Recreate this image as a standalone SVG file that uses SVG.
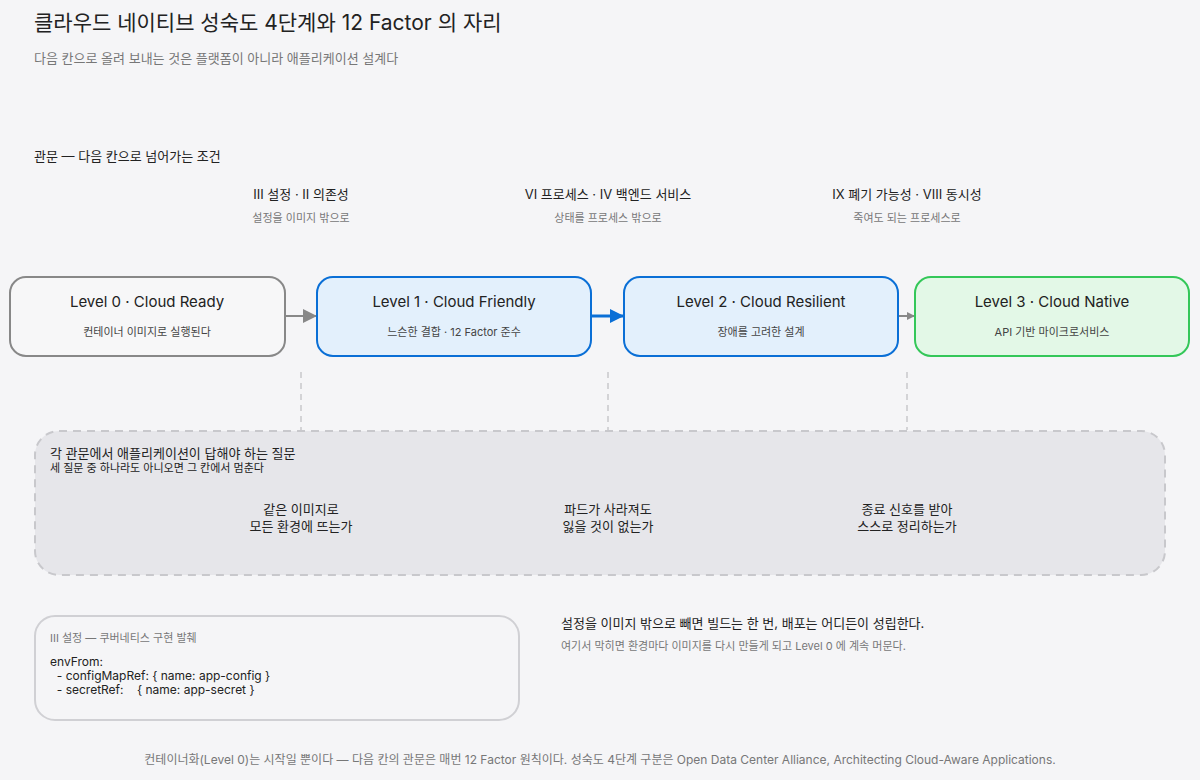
<svg xmlns="http://www.w3.org/2000/svg" width="1200" height="780" viewBox="0 0 1200 780">
<defs>
<style>
text{font-family:Inter,"Noto Sans CJK KR","Noto Sans",sans-serif;fill:#222}
.t{font-size:15px}.s{font-size:11px;fill:#444}.g{fill:#777}.c{text-anchor:middle}
</style>
<marker id="ag" markerWidth="8" markerHeight="8" refX="7" refY="4" orient="auto" markerUnits="userSpaceOnUse"><path d="M0,0L8,4L0,8z" fill="#888"/></marker>
<marker id="ab" markerWidth="14" markerHeight="14" refX="13" refY="7" orient="auto" markerUnits="userSpaceOnUse"><path d="M0,0L14,7L0,14z" fill="#0a6fd6"/></marker>
<marker id="ag2" markerWidth="14" markerHeight="14" refX="13" refY="7" orient="auto" markerUnits="userSpaceOnUse"><path d="M0,0L14,7L0,14z" fill="#888"/></marker>
</defs>
<rect width="1200" height="780" fill="#f5f5f7"/>
<text x="34" y="30" font-size="21">클라우드 네이티브 성숙도 4단계와 12 Factor 의 자리</text>
<text x="34" y="63" font-size="13" class="g">다음 칸으로 올려 보내는 것은 플랫폼이 아니라 애플리케이션 설계다</text>
<text x="34" y="161" font-size="13">관문 — 다음 칸으로 넘어가는 조건</text>
<text x="301" y="199" font-size="13" class="c">III 설정 · II 의존성</text>
<text x="301" y="222" class="s c g">설정을 이미지 밖으로</text>
<text x="608" y="199" font-size="13" class="c">VI 프로세스 · IV 백엔드 서비스</text>
<text x="608" y="222" class="s c g">상태를 프로세스 밖으로</text>
<text x="907" y="199" font-size="13" class="c">IX 폐기 가능성 · VIII 동시성</text>
<text x="907" y="222" class="s c g">죽여도 되는 프로세스로</text>
<g id="connectors" fill="none">
<line x1="286" y1="316" x2="316" y2="316" stroke="#888" stroke-width="2" marker-end="url(#ag2)"/>
<line x1="592" y1="316" x2="623" y2="316" stroke="#0a6fd6" stroke-width="3" marker-end="url(#ab)"/>
<line x1="899" y1="316" x2="914" y2="316" stroke="#888" stroke-width="2" marker-end="url(#ag)"/>
<g stroke="#c8c8cc" stroke-width="1.5" stroke-dasharray="6 5">
<line x1="301" y1="372" x2="301" y2="430"/><line x1="608" y1="372" x2="608" y2="430"/><line x1="907" y1="372" x2="907" y2="430"/>
</g>
</g>
<g id="n0"><rect x="10" y="277" width="275" height="79" rx="16" fill="#f7f7f8" stroke="#888" stroke-width="2"/>
<text x="147" y="307" class="t c">Level 0 · Cloud Ready</text><text x="147" y="336" class="s c">컨테이너 이미지로 실행된다</text></g>
<g id="n1"><rect x="317" y="277" width="274" height="79" rx="16" fill="#e3f0fc" stroke="#0a6fd6" stroke-width="2"/>
<text x="454" y="307" class="t c">Level 1 · Cloud Friendly</text><text x="454" y="336" class="s c">느슨한 결합 · 12 Factor 준수</text></g>
<g id="n2"><rect x="624" y="277" width="274" height="79" rx="16" fill="#e3f0fc" stroke="#0a6fd6" stroke-width="2"/>
<text x="761" y="307" class="t c">Level 2 · Cloud Resilient</text><text x="761" y="336" class="s c">장애를 고려한 설계</text></g>
<g id="n3"><rect x="915" y="277" width="274" height="79" rx="16" fill="#e3f8e7" stroke="#34c759" stroke-width="2"/>
<text x="1052" y="307" class="t c">Level 3 · Cloud Native</text><text x="1052" y="336" class="s c">API 기반 마이크로서비스</text></g>
<g id="questions"><rect x="35" y="431" width="1130" height="144" rx="24" fill="#e6e6ea" stroke="#c8c8cc" stroke-width="2" stroke-dasharray="8 6"/>
<text x="50" y="458" font-size="13">각 관문에서 애플리케이션이 답해야 하는 질문</text>
<text x="50" y="472" font-size="11">세 질문 중 하나라도 아니오면 그 칸에서 멈춘다</text>
<text x="301" y="514" font-size="13" class="c">같은 이미지로</text><text x="301" y="531" font-size="13" class="c">모든 환경에 뜨는가</text>
<text x="608" y="514" font-size="13" class="c">파드가 사라져도</text><text x="608" y="531" font-size="13" class="c">잃을 것이 없는가</text>
<text x="907" y="514" font-size="13" class="c">종료 신호를 받아</text><text x="907" y="531" font-size="13" class="c">스스로 정리하는가</text></g>
<g id="code"><rect x="35" y="616" width="484" height="104" rx="20" fill="#f5f5f7" stroke="#d0d0d4" stroke-width="2"/>
<text x="50" y="642" class="s g">III 설정 — 쿠버네티스 구현 발췌</text>
<text x="50" y="666" font-size="12" xml:space="preserve">envFrom:</text>
<text x="50" y="680" font-size="12" xml:space="preserve">  - configMapRef: { name: app-config }</text>
<text x="50" y="694" font-size="12" xml:space="preserve">  - secretRef:    { name: app-secret }</text></g>
<text x="561" y="628" font-size="13">설정을 이미지 밖으로 빼면 빌드는 한 번, 배포는 어디든이 성립한다.</text>
<text x="561" y="650" class="s g">여기서 막히면 환경마다 이미지를 다시 만들게 되고 Level 0 에 계속 머문다.</text>
<text x="600" y="764" font-size="12" class="c g">컨테이너화(Level 0)는 시작일 뿐이다 — 다음 칸의 관문은 매번 12 Factor 원칙이다. 성숙도 4단계 구분은 Open Data Center Alliance, Architecting Cloud-Aware Applications.</text>
</svg>
